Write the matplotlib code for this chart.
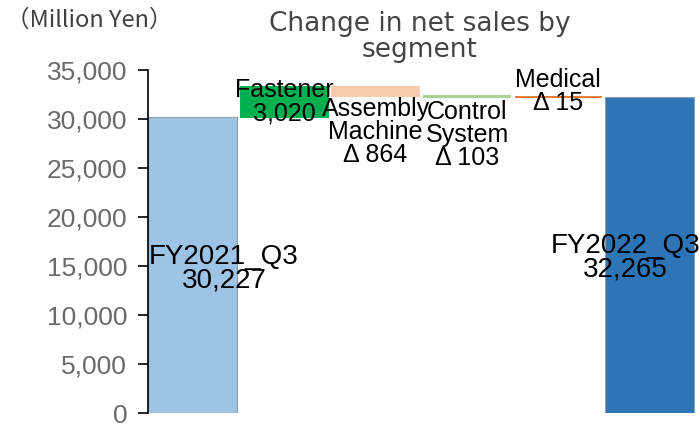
import numpy as np
import matplotlib.pyplot as plt

plt.rcParams['font.family'] = ['Liberation Sans', 'DejaVu Sans']

labels = ["FY2021_Q3", "Fastener", "Assembly\nMachine", "Control\nSystem", "Medical", "FY2022_Q3"]
start_value = 30227
changes = [3020, -864, -103, -15]
end_value = 32265
colors = ["#9DC3E6", "#00B050", "#F8CBAD", "#A9D18E", "#ED7D31", "#2E75B6"]

# waterfall geometry
bottoms = [0]
heights = [start_value]
level = start_value
for c in changes:
    bottoms.append(level if c > 0 else level + c)
    heights.append(abs(c))
    level += c
bottoms.append(0)
heights.append(end_value)

fig = plt.figure(figsize=(7, 4.26), dpi=100)
ax = fig.add_axes([0.2114, 0.0305, 0.7886, 0.8052])

x = np.arange(len(labels))
for i in range(len(labels)):
    if i in (0, len(labels) - 1):
        ax.bar(x[i], heights[i], bottom=bottoms[i], width=0.97, color=colors[i],
               edgecolor="#8f9faf", linewidth=0.8)
    else:
        ax.bar(x[i], heights[i], bottom=bottoms[i], width=0.95, color=colors[i],
               edgecolor=colors[i], linewidth=1.4)

def fmt(v):
    return f"{v:,}"

txt = dict(fontsize=18, color="black", linespacing=0.95)
big = dict(fontsize=20, color="black", linespacing=0.9)
ax.text(x[0] + 0.34, start_value / 2 - 400, f"{labels[0]}\n{fmt(start_value)}", va="center",
        ha="center", **big)
ax.text(5.55, end_value / 2 - 300, f"{labels[-1]}\n{fmt(end_value)}", va="center", ha="right",
        multialignment="center", **big)
ax.text(x[1], bottoms[1] + heights[1] / 2, f"{labels[1]}\n{fmt(changes[0])}", va="center", ha="center", **txt)
ax.text(x[2], bottoms[2] - 100, f"{labels[2]}\n\u0394 {fmt(-changes[1])}", va="top", ha="center", **txt)
ax.text(x[3], bottoms[3] - 300, f"{labels[3]}\n\u0394 {fmt(-changes[2])}", va="top", ha="center", **txt)
ax.text(x[4], bottoms[4] + 500, f"{labels[4]}\n\u0394 {fmt(-changes[3])}", va="center", ha="center", **txt)

ax.set_xlim(-0.49, 5.55)
ax.set_ylim(0, 35000)
ax.set_yticks(np.arange(0, 35001, 5000))
ax.set_yticklabels([fmt(v) for v in range(0, 35001, 5000)])
ax.tick_params(axis="y", labelsize=19, labelcolor="#6a6a6a", length=7, width=1.2,
               direction="out", pad=8)
ax.set_xticks([])
for s in ["top", "right", "bottom"]:
    ax.spines[s].set_visible(False)
ax.spines["left"].set_linewidth(1.2)

fig.text(0.008, 0.953, "（Million Yen）", fontsize=17, color="#404040", va="center",
         family=["Noto Sans CJK JP", "DejaVu Sans"])
fig.text(0.6, 0.913, "Change in net sales by\nsegment", fontsize=19, color="#454545",
         ha="center", va="center", linespacing=1.0, family=["DejaVu Sans"])

fig.savefig("out.png", dpi=100)
